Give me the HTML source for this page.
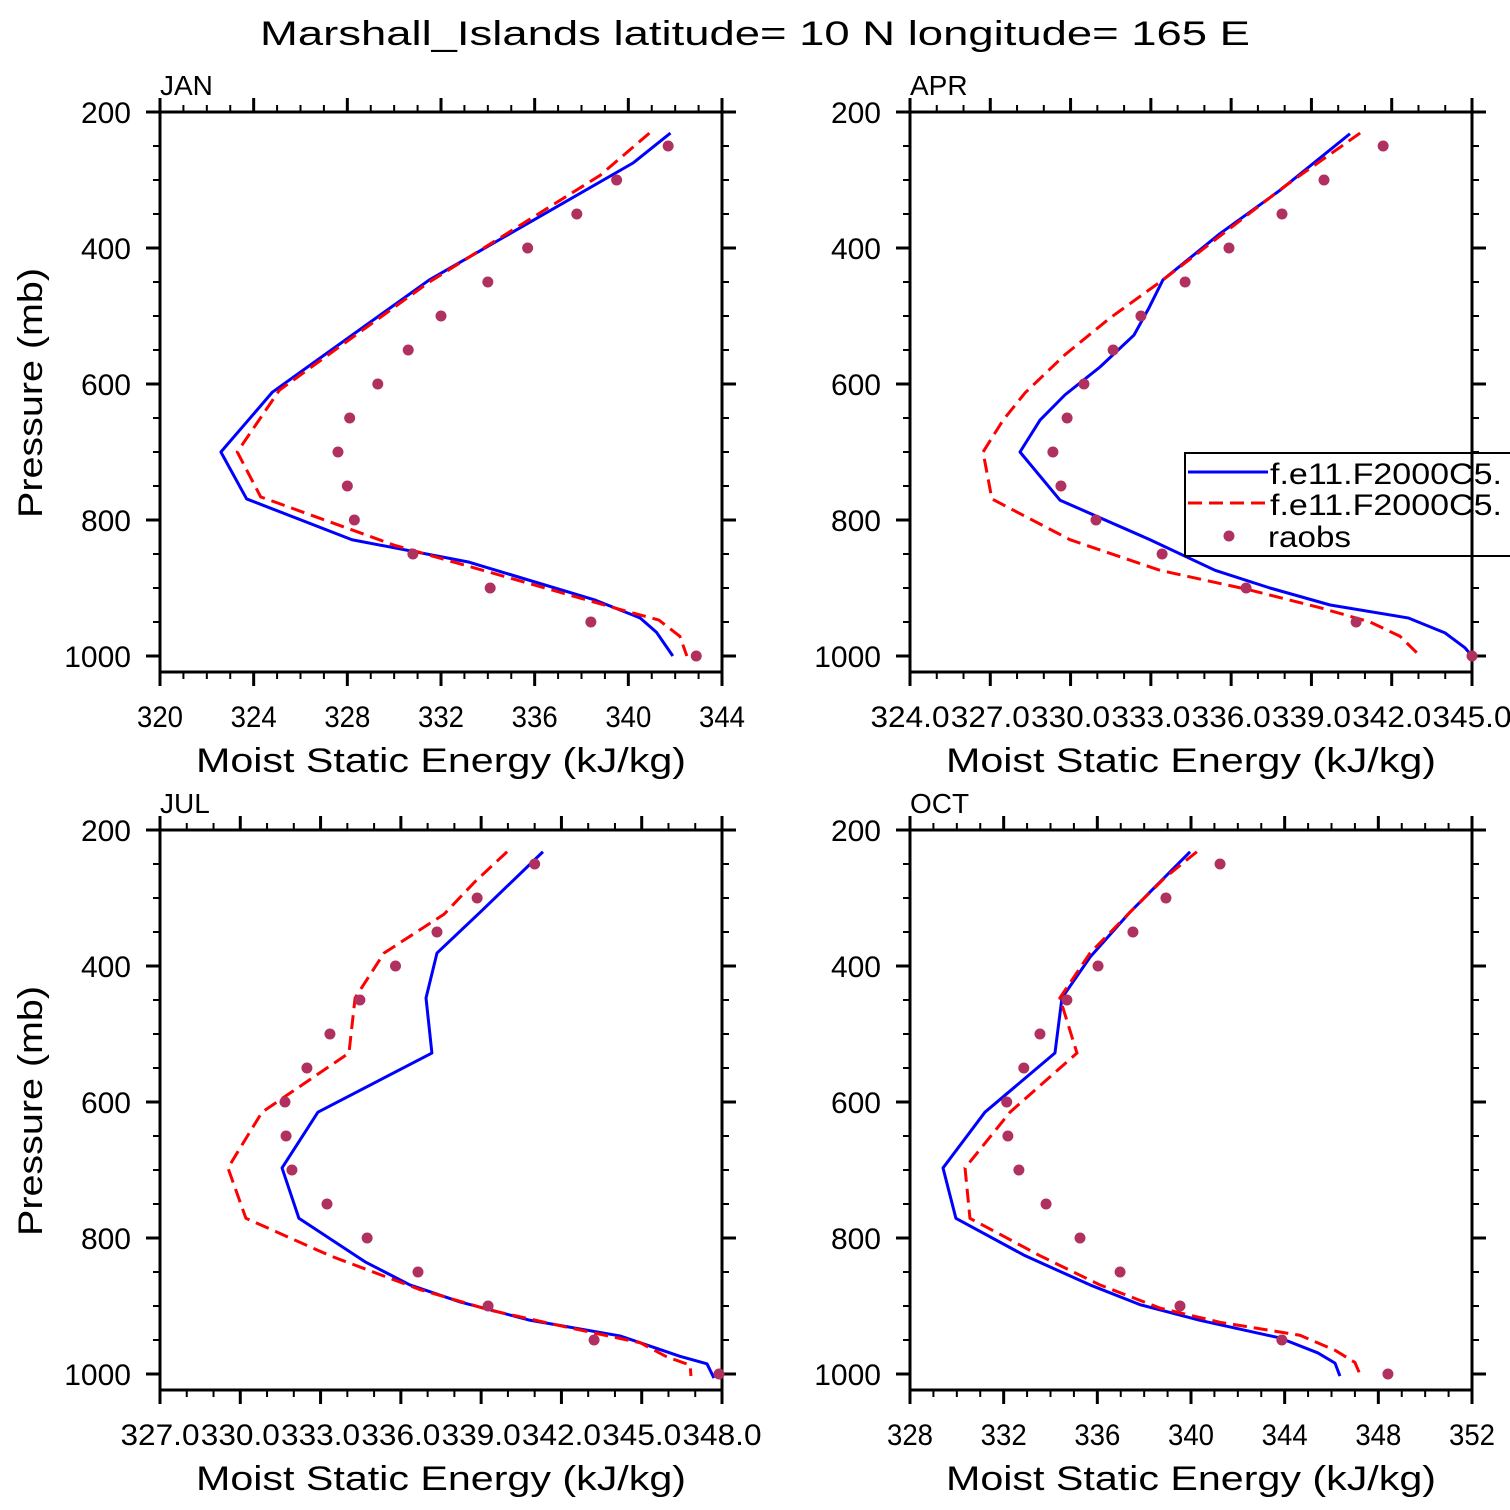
<!DOCTYPE html>
<html><head><meta charset="utf-8"><style>
html,body{margin:0;padding:0;background:#fff}
svg{display:block}
text{font-family:"Liberation Sans",sans-serif;fill:#000}
</style></head><body>
<svg id="chart" width="1510" height="1510" viewBox="0 0 1510 1510" xmlns="http://www.w3.org/2000/svg">
<text x="755" y="45" font-size="34" text-anchor="middle" textLength="990" lengthAdjust="spacingAndGlyphs">Marshall_Islands  latitude= 10 N longitude= 165 E</text>
</svg>
<script>
// ---- data ----
const obsP = [250,300,350,400,450,500,550,600,650,700,750,800,850,900,950,1000];
const janObs = [341.7,339.5,337.8,335.7,334.0,332.0,330.6,329.3,328.1,327.6,328.0,328.3,330.8,334.1,338.4,342.9];
const aprObs = [341.68,339.47,337.90,335.92,334.28,332.63,331.59,330.50,329.87,329.34,329.64,330.95,333.42,336.56,340.67,345.0];
const julObs = [341.0,338.85,337.35,335.8,334.47,333.35,332.49,331.67,331.71,331.93,333.24,334.74,336.64,339.26,343.22,347.89];
const octObs = [341.24,338.93,337.52,336.03,334.70,333.55,332.86,332.13,332.18,332.65,333.81,335.26,336.97,339.53,343.88,348.41];

const janBlueP = [231,275,447,612,700,769,829,862,918,944,965,1000];
const janBlue  = [341.8,340.2,331.5,324.8,322.6,323.7,328.2,333.2,338.6,340.5,341.2,341.9];
const janRedP  = [231,293,450,609,700,766,837,881,935,947,971,1000];
const janRed   = [340.9,338.8,331.5,325.1,323.3,324.3,330.0,334.5,340.0,341.3,342.2,342.5];

const aprBlueP = [232,315,379,447,488,528,575,616,653,700,771,829,874,900,925,944,966,988,1000];
const aprBlue  = [340.44,337.83,335.58,333.45,332.93,332.37,331.10,329.79,328.86,328.11,329.61,332.97,335.40,337.45,339.70,342.61,343.99,344.74,345.0];
const aprRedP  = [231,309,447,503,557,613,653,700,769,829,874,903,929,950,971,1000];
const aprRed   = [340.82,338.01,333.45,331.47,329.79,328.30,327.48,326.73,327.06,329.98,333.34,336.71,339.32,341.19,342.31,343.06];

const julBlueP = [232,321,381,447,528,615,697,771,835,869,894,921,944,974,985,1006];
const julBlue  = [341.31,338.96,337.35,336.94,337.16,332.90,331.56,332.19,334.66,336.34,338.21,340.83,344.19,346.43,347.44,347.70];
const julRedP  = [232,276,324,381,447,528,615,697,771,826,876,906,929,954,975,987,1003];
const julRed   = [339.97,338.77,337.61,335.37,334.29,334.06,330.81,329.54,330.21,333.35,336.72,339.33,341.95,344.94,345.95,346.81,346.84];

const octBlueP = [232,321,387,447,528,615,697,771,826,869,898,921,947,969,984,1003];
const octBlue  = [339.96,337.39,335.69,334.49,334.19,331.20,329.41,329.96,332.91,335.69,337.82,340.38,343.80,345.42,346.15,346.36];
const octRedP  = [232,270,321,381,447,528,615,697,771,826,869,903,924,943,965,983,1000];
const octRed   = [340.25,338.89,337.39,335.69,334.40,335.13,332.27,330.35,330.56,333.55,336.11,338.67,341.24,344.65,346.15,347.00,347.21];

const janTicks = ["320","324","328","332","336","340","344"];
const aprTicks = ["324.0","327.0","330.0","333.0","336.0","339.0","342.0","345.0"];
const julTicks = ["327.0","330.0","333.0","336.0","339.0","342.0","345.0","348.0"];
const octTicks = ["328","332","336","340","344","348","352"];
const pTicks = [200,400,600,800,1000];

const NS='http://www.w3.org/2000/svg';
const svg=document.getElementById('chart');
function mk(tag,attrs,parent){const e=document.createElementNS(NS,tag);for(const k in attrs)e.setAttribute(k,attrs[k]);(parent||svg).appendChild(e);return e;}

function panel(name,x0,y0,xmin,xmax,ticks,minorPer,obs,bP,b,rP,r){
  const W=562,H=560,x1=x0+W;
  const g=mk('g',{});
  
  
  const xs=v=>x0+(v-xmin)/(xmax-xmin)*W;
  const ys=p=>y0+(p-200)*0.68;
  const yb=y0+H;
  const lab=mk('text',{x:x0,y:y0-17,'font-size':28},g);
  lab.textContent=name.toUpperCase();
  
  
  const box=mk('rect',{x:x0,y:y0,width:W,height:H,fill:'none',stroke:'#000','stroke-width':3},g);
  
  
  const nMaj=ticks.length-1, nMin=nMaj*minorPer;
  for(let i=0;i<=nMin;i++){
    const xx=x0+i*W/nMin, maj=i%minorPer===0, L=maj?14:7;
    mk('line',{x1:xx,x2:xx,y1:y0,y2:y0-L,stroke:'#000','stroke-width':maj?3:2},g);
    mk('line',{x1:xx,x2:xx,y1:yb,y2:yb+L,stroke:'#000','stroke-width':maj?3:2},g);
  }
  ticks.forEach((t,i)=>{
    const tx=mk('text',{x:x0+i*W/nMaj,y:yb+55,'font-size':30,'text-anchor':'middle',textLength:t.length>3?79:46,lengthAdjust:'spacingAndGlyphs'},g);
    tx.textContent=t;
    
    
  });
  for(let p=200;p<=1000;p+=50){
    const yy=ys(p), maj=p%200===0, L=maj?14:7;
    mk('line',{x1:x0,x2:x0-L,y1:yy,y2:yy,stroke:'#000','stroke-width':maj?3:2},g);
    mk('line',{x1:x1,x2:x1+L,y1:yy,y2:yy,stroke:'#000','stroke-width':maj?3:2},g);
  }
  pTicks.forEach(p=>{
    const ty=mk('text',{x:x0-29,y:ys(p)+11,'font-size':30,'text-anchor':'end'},g);
    ty.textContent=p;
    
    
  });
  const xt=mk('text',{x:x0+281,y:yb+100,'font-size':34,'text-anchor':'middle',textLength:490,lengthAdjust:'spacingAndGlyphs'},g);
  xt.textContent='Moist Static Energy (kJ/kg)';
  
  
  if(x0<500){
    const yt=mk('text',{x:0,y:0,'font-size':34,'text-anchor':'middle',textLength:250,lengthAdjust:'spacingAndGlyphs',transform:`translate(42,${y0+281}) rotate(-90)`},g);
    yt.textContent='Pressure (mb)';
    
    
  }
  const blue=mk('polyline',{points:bP.map((p,i)=>xs(b[i])+','+ys(p)).join(' '),fill:'none',stroke:'#0000ff','stroke-width':3,'stroke-linejoin':'round'},g);
  
  
  const red=mk('polyline',{points:rP.map((p,i)=>xs(r[i])+','+ys(p)).join(' '),fill:'none',stroke:'#ff0000','stroke-width':3,'stroke-dasharray':'14 7'},g);
  
  
  obs.forEach((v,i)=>{
    const c=mk('circle',{cx:xs(v),cy:ys(obsP[i]),r:5.5,fill:'#b03060'},g);
    
    
  });
}
panel('jan',160,112,320,344,janTicks,4,janObs,janBlueP,janBlue,janRedP,janRed);
panel('apr',910,112,324,345,aprTicks,3,aprObs,aprBlueP,aprBlue,aprRedP,aprRed);
panel('jul',160,830,327,348,julTicks,3,julObs,julBlueP,julBlue,julRedP,julRed);
panel('oct',910,830,328,352,octTicks,4,octObs,octBlueP,octBlue,octRedP,octRed);

const lg=mk('g',{});


mk('rect',{x:1185,y:453,width:360,height:103,fill:'#fff',stroke:'#000','stroke-width':2},lg);
mk('line',{x1:1188,x2:1268,y1:472,y2:472,stroke:'#0000ff','stroke-width':3},lg);
mk('line',{x1:1188,x2:1268,y1:503,y2:503,stroke:'#ff0000','stroke-width':3,'stroke-dasharray':'14 7'},lg);
mk('circle',{cx:1229,cy:536,r:5.5,fill:'#b03060'},lg);
mk('line',{x1:1472,x2:1472,y1:453,y2:556,stroke:'#000','stroke-width':3},lg);
const l1=mk('text',{x:1270,y:484,'font-size':30,textLength:232,lengthAdjust:'spacingAndGlyphs'},lg);
l1.textContent='f.e11.F2000C5.';


const l2=mk('text',{x:1270,y:515,'font-size':30,textLength:232,lengthAdjust:'spacingAndGlyphs'},lg);
l2.textContent='f.e11.F2000C5.';


const l3=mk('text',{x:1268,y:547,'font-size':30,textLength:83,lengthAdjust:'spacingAndGlyphs'},lg);
l3.textContent='raobs';


</script>
</body></html>
